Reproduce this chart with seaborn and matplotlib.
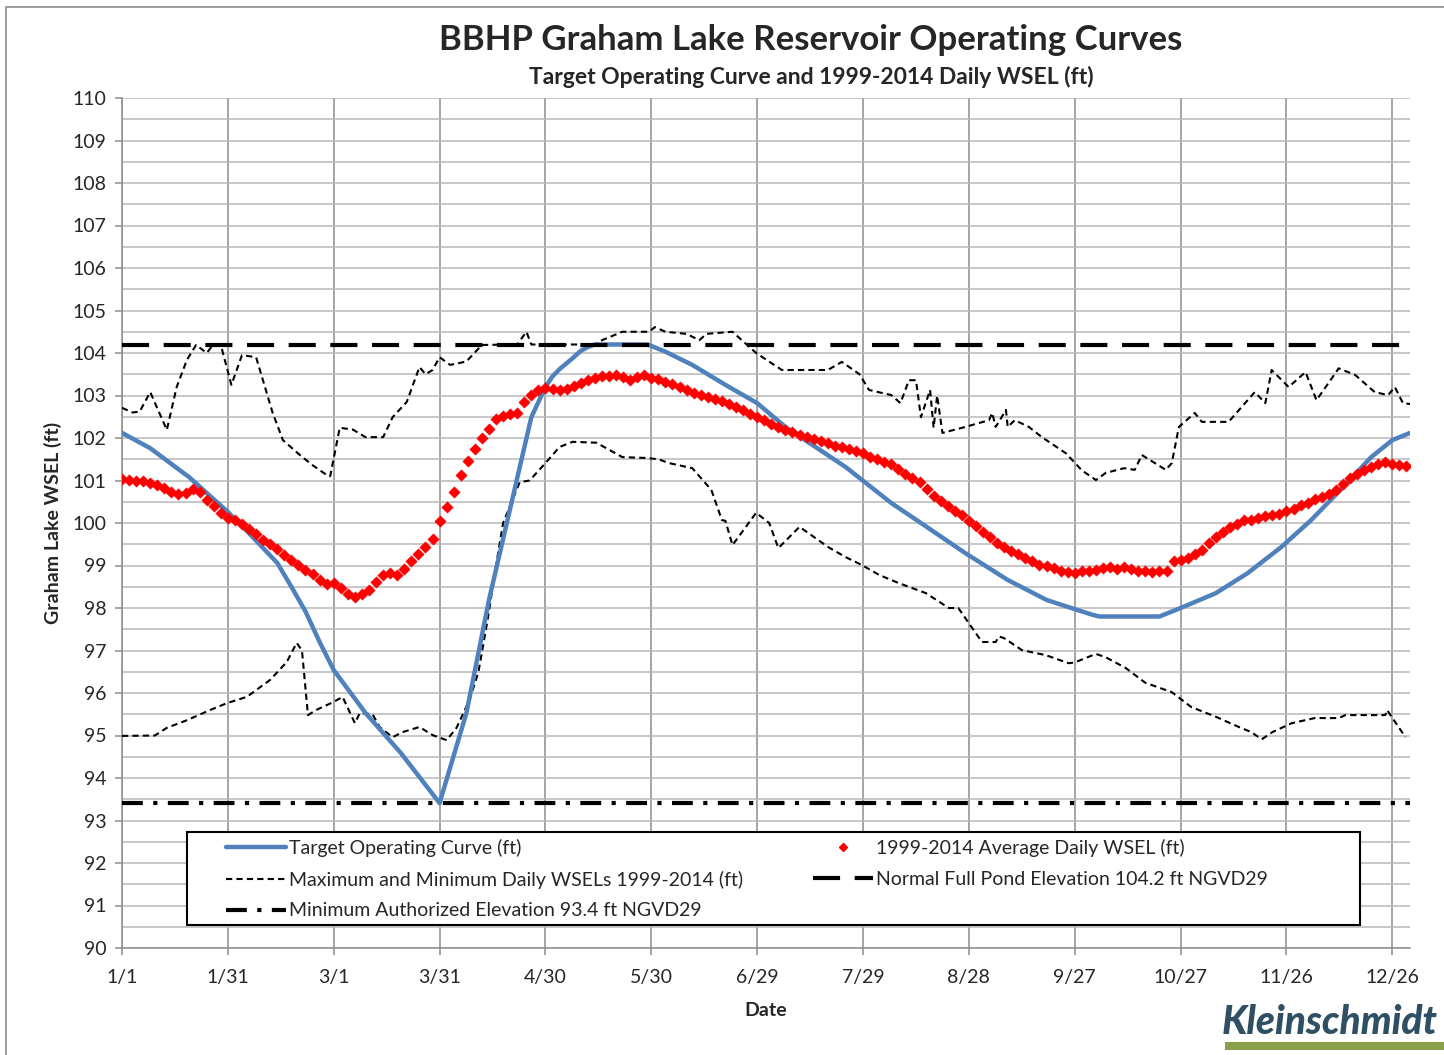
import matplotlib
matplotlib.use("Agg")
import matplotlib.pyplot as plt
import numpy as np
import seaborn as sns
from matplotlib.lines import Line2D
from matplotlib.patches import Rectangle

# day of year (0 = 1/1, leap year) for the date ticks
TICK_DAYS = [0, 30, 60, 90, 120, 150, 180, 210, 240, 270, 300, 330, 360]
TICK_LABELS = ["1/1", "1/31", "3/1", "3/31", "4/30", "5/30", "6/29", "7/29",
               "8/28", "9/27", "10/27", "11/26", "12/26"]

FULL_POND = 104.2
MIN_AUTHORIZED = 93.4

# target operating curve (ft)
target_days = [0, 8, 19, 30, 36, 44, 48, 52, 56, 60, 69, 79, 90, 97.6, 104, 111, 116, 120,
               122, 124, 126, 128, 130, 132, 134, 149, 154, 161.6, 171, 180, 188, 195.6,
               205, 209, 218, 228, 239, 251, 262, 269, 275, 277, 294, 300, 310, 319,
               328.6, 337, 346.7, 354, 360, 365]
target_wsel = [102.12, 101.76, 101.08, 100.26, 99.76, 99.06, 98.5, 97.92, 97.2, 96.54,
               95.53, 94.59, 93.41, 95.53, 98.19, 100.7, 102.49, 103.2, 103.45, 103.62,
               103.76, 103.9, 104.05, 104.14, 104.2, 104.2, 104.03, 103.72, 103.25, 102.82,
               102.26, 101.84, 101.32, 101.06, 100.47, 99.91, 99.29, 98.66, 98.19, 98.0,
               97.84, 97.8, 97.8, 98.0, 98.35, 98.82, 99.44, 100.07, 100.9, 101.55, 101.95,
               102.12]

# maximum daily WSEL 1999-2014 (ft)
max_days = [0, 3, 5, 8, 10, 12.7, 15.5, 18.4, 21, 24, 25.8, 28, 31, 34, 38, 42.7, 45.6,
            50.4, 54, 58, 59, 61.7, 65.4, 69, 74, 76.7, 80.7, 84.3, 86, 88, 90, 93, 97.6,
            102, 112, 114.6, 116, 134, 136, 141.8, 149.4, 151, 154, 160, 163.6, 165.6,
            173, 177, 179.7, 187, 200, 204, 209, 211.7, 218, 220.6, 223, 225, 226.4, 229,
            230, 231, 232.5, 239, 245.7, 246.6, 247.6, 250.5, 251, 253, 257, 260.7, 267.5,
            272, 276, 278.8, 284, 287, 289, 295.8, 297.5, 299.5, 304, 306, 313.6, 321,
            324, 325.8, 330.6, 335.4, 338.5, 344.8, 349.5, 355, 358.8, 360.7, 363, 365]
max_wsel = [102.71, 102.6, 102.62, 103.08, 102.7, 102.19, 103.2, 103.84, 104.19, 104.0,
            104.19, 104.19, 103.25, 103.95, 103.9, 102.59, 101.95, 101.6, 101.36, 101.13,
            101.1, 102.24, 102.2, 102.02, 102.02, 102.49, 102.85, 103.67, 103.5, 103.6,
            103.9, 103.72, 103.8, 104.19, 104.2, 104.5, 104.2, 104.2, 104.3, 104.5, 104.5,
            104.61, 104.5, 104.45, 104.3, 104.45, 104.5, 104.2, 104.0, 103.6, 103.6,
            103.79, 103.5, 103.13, 103.01, 102.82, 103.36, 103.36, 102.49, 103.13, 102.24,
            103.0, 102.12, 102.26, 102.42, 102.59, 102.26, 102.66, 102.26, 102.42, 102.26,
            102.02, 101.64, 101.24, 101.01, 101.18, 101.29, 101.25, 101.6, 101.25, 101.41,
            102.26, 102.59, 102.38, 102.38, 103.08, 102.82, 103.6, 103.2, 103.55, 102.89,
            103.64, 103.48, 103.08, 103.01, 103.2, 102.82, 102.8]

# minimum daily WSEL 1999-2014 (ft)
min_days = [0, 9.3, 12.7, 18.4, 25, 29.7, 35.4, 42, 46.7, 49.5, 51, 52.7, 55, 60, 62.5,
            66, 67.4, 71, 73, 76.7, 79.5, 84.3, 88, 92, 94.8, 98.5, 101, 103.6, 106, 108,
            112.7, 115.5, 120, 124, 127.7, 134.4, 141.8, 148.6, 152, 155, 161.6, 167, 170,
            171, 173, 179.7, 183.4, 186, 192, 200, 205, 209.7, 214.5, 220, 227.8, 234.3,
            237, 243.7, 247.6, 248.5, 250, 255, 261.8, 268.3, 270, 276, 278.8, 284.4, 290,
            297.5, 303, 310, 316.5, 320, 323, 326, 331.5, 338, 344.8, 346.7, 358, 358.5,
            363.7]
min_wsel = [94.99, 95.0, 95.18, 95.36, 95.6, 95.76, 95.91, 96.31, 96.73, 97.18, 97.0,
            95.48, 95.6, 95.79, 95.91, 95.29, 95.53, 95.5, 95.2, 94.96, 95.08, 95.2, 95.01,
            94.89, 95.18, 95.84, 96.49, 97.72, 99.0, 100.0, 100.96, 101.0, 101.41, 101.79,
            101.91, 101.89, 101.55, 101.53, 101.5, 101.41, 101.29, 100.78, 100.07, 100.05,
            99.48, 100.24, 100.0, 99.41, 99.91, 99.44, 99.2, 99.01, 98.78, 98.59, 98.35,
            98.0, 98.0, 97.2, 97.2, 97.33, 97.29, 97.01, 96.89, 96.7, 96.72, 96.92, 96.84,
            96.59, 96.24, 96.02, 95.67, 95.44, 95.2, 95.08, 94.91, 95.08, 95.29, 95.41,
            95.41, 95.48, 95.48, 95.6, 94.96]

# 1999-2014 average daily WSEL (ft), every second day from 1/1
avg_days = np.arange(0, 365, 2)
avg_wsel = [
    101.04, 101.02, 100.98, 100.99, 100.94, 100.90, 100.82, 100.74, 100.68, 100.70,
    100.80, 100.72, 100.55, 100.40, 100.24, 100.12, 100.06, 99.98, 99.86, 99.74,
    99.60, 99.50, 99.38, 99.24, 99.13, 99.02, 98.90, 98.80, 98.66, 98.56,
    98.60, 98.48, 98.32, 98.26, 98.32, 98.42, 98.62, 98.78, 98.82, 98.78,
    98.92, 99.10, 99.26, 99.44, 99.62, 100.04, 100.38, 100.74, 101.12, 101.46,
    101.74, 102.00, 102.22, 102.44, 102.52, 102.56, 102.60, 102.84, 103.02, 103.12,
    103.18, 103.16, 103.14, 103.16, 103.22, 103.30, 103.36, 103.42, 103.45, 103.46,
    103.48, 103.44, 103.36, 103.44, 103.48, 103.42, 103.38, 103.32, 103.26, 103.20,
    103.12, 103.06, 103.02, 102.96, 102.92, 102.86, 102.80, 102.74, 102.66, 102.56,
    102.50, 102.42, 102.34, 102.26, 102.20, 102.14, 102.08, 102.02, 101.98, 101.94,
    101.88, 101.82, 101.78, 101.74, 101.70, 101.64, 101.56, 101.50, 101.44, 101.40,
    101.28, 101.16, 101.06, 100.96, 100.80, 100.64, 100.52, 100.40, 100.28, 100.18,
    100.04, 99.92, 99.80, 99.66, 99.54, 99.44, 99.34, 99.26, 99.18, 99.10,
    99.02, 98.98, 98.94, 98.88, 98.84, 98.82, 98.86, 98.88, 98.90, 98.94,
    98.96, 98.92, 98.96, 98.92, 98.88, 98.86, 98.84, 98.86, 98.88, 99.10,
    99.14, 99.18, 99.26, 99.36, 99.52, 99.66, 99.80, 99.90, 99.98, 100.06,
    100.08, 100.12, 100.16, 100.18, 100.22, 100.28, 100.34, 100.42, 100.48, 100.56,
    100.62, 100.68, 100.78, 100.92, 101.06, 101.16, 101.24, 101.32, 101.40, 101.44,
    101.40, 101.36, 101.34,
]

BLUE = "#4F81BD"
MAXMIN_DASH = (0, (3, 2))
POND_DASH = (0, (6.5, 3.5))
MINAUTH_DASH = (0, (5, 2.5, 1, 2.5))

sns.set_style("white")
plt.rcParams["font.family"] = ["Lato", "DejaVu Sans"]

fig = plt.figure(figsize=(14.44, 10.55), dpi=100)
ax = fig.add_axes([122 / 1444, 1 - 948 / 1055, 1288 / 1444, 850 / 1055])

sns.lineplot(x=max_days, y=max_wsel, ax=ax, color="black", lw=1.5,
             linestyle=MAXMIN_DASH, errorbar=None, zorder=3)
sns.lineplot(x=min_days, y=min_wsel, ax=ax, color="black", lw=1.5,
             linestyle=MAXMIN_DASH, errorbar=None, zorder=3)
sns.lineplot(x=target_days, y=target_wsel, ax=ax, color=BLUE, lw=3.2,
             errorbar=None, zorder=4)
ax.axhline(FULL_POND, color="black", lw=3, linestyle=POND_DASH, zorder=5)
ax.axhline(MIN_AUTHORIZED, color="black", lw=3, linestyle=MINAUTH_DASH, zorder=5)
sns.scatterplot(x=avg_days, y=avg_wsel, ax=ax, marker="D", s=34, color="red",
                edgecolor="red", linewidth=0.3, zorder=6)

ax.set_xlim(0, 365)
ax.set_ylim(90, 110)
ax.set_xticks(TICK_DAYS)
ax.set_xticklabels(TICK_LABELS)
ax.set_yticks(np.arange(90, 111, 1))
ax.set_yticks(np.arange(90.5, 110, 1), minor=True)
ax.grid(axis="x", which="major", color="#8c8c8c", lw=1.1)
ax.grid(axis="y", which="both", color="#b8b8b8", lw=1.1)
ax.set_axisbelow(True)
for side in ["top", "right"]:
    ax.spines[side].set_visible(False)
for side in ["left", "bottom"]:
    ax.spines[side].set_color("#8c8c8c")
    ax.spines[side].set_linewidth(1.1)
ax.tick_params(axis="both", which="major", direction="out", length=5, width=1.1,
               color="#8c8c8c", labelsize=14, pad=6, left=True, bottom=True)
ax.tick_params(axis="x", which="major", pad=10)
ax.tick_params(axis="y", which="minor", left=False)
ax.set_xlabel("Date", fontsize=14, fontweight="bold", labelpad=12)
ax.set_ylabel("Graham Lake WSEL (ft)", fontsize=14, fontweight="bold", labelpad=8)

# legend box
ax.add_patch(Rectangle((65 / 1288, 23 / 850), 1173 / 1288, 93 / 850,
                       transform=ax.transAxes, facecolor="white", edgecolor="black",
                       lw=1.5, zorder=7))
left_handles = [
    Line2D([], [], color=BLUE, lw=3.2),
    Line2D([], [], color="black", lw=1.5, linestyle=MAXMIN_DASH),
    Line2D([], [], color="black", lw=3, linestyle=MINAUTH_DASH),
]
left_labels = ["Target Operating Curve (ft)",
               "Maximum and Minimum Daily WSELs 1999-2014 (ft)",
               "Minimum Authorized Elevation 93.4 ft NGVD29"]
right_handles = [
    Line2D([], [], ls="none", marker="D", ms=4, color="red"),
    Line2D([], [], color="black", lw=3, linestyle=POND_DASH),
]
right_labels = ["1999-2014 Average Daily WSEL (ft)",
                "Normal Full Pond Elevation 104.2 ft NGVD29"]
leg_kw = dict(frameon=False, loc="upper left", fontsize=14, handlelength=3.1,
              handletextpad=0.15, labelspacing=0.7, borderpad=0, borderaxespad=0)
leg1 = ax.legend(left_handles, left_labels,
                 bbox_to_anchor=(104 / 1288, 109 / 850), **leg_kw)
leg1.set_zorder(8)
ax.add_artist(leg1)
leg2 = ax.legend(right_handles, right_labels,
                 bbox_to_anchor=(691 / 1288, 109 / 850), **leg_kw)
leg2.set_zorder(8)

fig.text(811 / 1444, 1 - 40 / 1055, "BBHP Graham Lake Reservoir Operating Curves",
         ha="center", va="center", fontsize=25, fontweight="bold")
fig.text(811 / 1444, 1 - 77 / 1055, "Target Operating Curve and 1999-2014 Daily WSEL (ft)",
         ha="center", va="center", fontsize=16.5, fontweight="bold")

# company logo
fig.text(1222 / 1444, 1 - 1022 / 1055, "Kleinschmidt", ha="left", va="center",
         fontsize=28, fontweight="black", fontstyle="italic", color="#2f4f63")
fig.add_artist(Rectangle((1225 / 1444, 1 - 1050 / 1055), 0.2, 8 / 1055,
                         transform=fig.transFigure, facecolor="#8aa049", edgecolor="none"))

fig.add_artist(Rectangle((6 / 1444, -0.1), 1.2, 0.1 + 1 - 7 / 1055,
                         transform=fig.transFigure, fill=False, edgecolor="#8c8c8c", lw=1.2))

fig.savefig("out.png", dpi=100)
